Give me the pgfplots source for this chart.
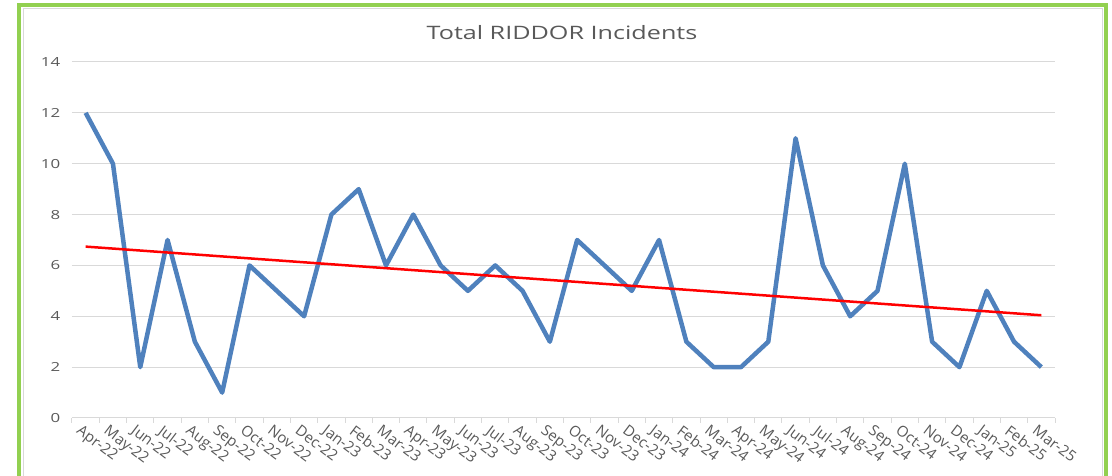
\documentclass[border=0pt]{standalone}
\usepackage{pgfplots}
\pgfplotsset{compat=1.18}
\usepackage{fontspec}
\setmainfont{Open Sans}
\definecolor{frameG}{RGB}{146,208,80}
\definecolor{lineB}{RGB}{79,129,189}
\definecolor{gridG}{RGB}{217,217,217}
\definecolor{txtG}{RGB}{89,89,89}
\begin{document}
\begin{tikzpicture}
\useasboundingbox (0,0) rectangle (1112pt,476pt);
\draw[gridG, line width=1pt] (23pt,-10pt) rectangle (1102pt,467pt);
\draw[frameG, line width=4pt] (19pt,-20pt) rectangle (1105.5pt,471pt);
\node[txtG, font=\fontsize{18.5}{20}\selectfont] at (562pt,443pt) {\scalebox{1.36}[1]{Total RIDDOR Incidents}};
\begin{axis}[
  at={(72pt,58pt)}, anchor=south west,
  width=983pt, height=356pt, scale only axis,
  xmin=-0.5, xmax=35.5, ymin=0, ymax=14,
  ytick={0,2,...,14},
  yticklabel={\scalebox{1.35}[1]{\pgfmathprintnumber{\tick}}},
  /pgf/number format/assume math mode=true,
  ymajorgrids, grid style={gridG, line width=1pt},
  axis x line*=bottom, axis y line*=left,
  y axis line style={draw=none},
  x axis line style={gridG, line width=1pt},
  ytick style={draw=none},
  xtick={0,...,35},
  major x tick style={draw=none},
  minor xtick={-0.5,0.5,...,35.5},
  minor x tick style={gridG, line width=1pt},
  minor tick length=5pt,
  tick align=outside,
  xticklabels={Apr-22,May-22,Jun-22,Jul-22,Aug-22,Sep-22,Oct-22,Nov-22,Dec-22,Jan-23,Feb-23,Mar-23,Apr-23,May-23,Jun-23,Jul-23,Aug-23,Sep-23,Oct-23,Nov-23,Dec-23,Jan-24,Feb-24,Mar-24,Apr-24,May-24,Jun-24,Jul-24,Aug-24,Sep-24,Oct-24,Nov-24,Dec-24,Jan-25,Feb-25,Mar-25},
  xticklabel style={rotate=-37, anchor=north west, font=\fontsize{15}{16}\selectfont, text=txtG, xshift=-5pt, yshift=0pt},
  yticklabel style={font=\fontsize{12.5}{14}\selectfont, text=txtG, xshift=-4pt},
  clip=false,
]
\addplot[lineB, line width=4.5pt, line join=round] coordinates {
(0,12)(1,10)(2,2)(3,7)(4,3)(5,1)(6,6)(7,5)(8,4)(9,8)(10,9)(11,6)
(12,8)(13,6)(14,5)(15,6)(16,5)(17,3)(18,7)(19,6)(20,5)(21,7)(22,3)(23,2)
(24,2)(25,3)(26,11)(27,6)(28,4)(29,5)(30,10)(31,3)(32,2)(33,5)(34,3)(35,2)
};
\addplot[red, line width=2.5pt] coordinates {(0,6.74)(35,4.04)};
\end{axis}
\end{tikzpicture}
\end{document}
